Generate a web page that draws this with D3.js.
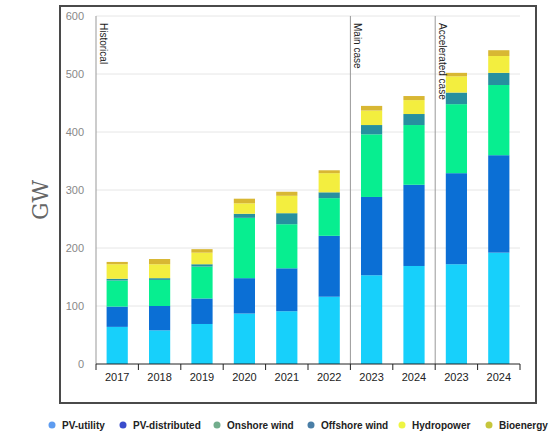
<!DOCTYPE html>
<html>
<head>
<meta charset="utf-8">
<script src="https://cdn.jsdelivr.net/npm/d3@7"></script>
<style>
  body { margin: 0; background: #fff; }
  svg { display: block; font-family: 'Liberation Sans', Arial, sans-serif; }
</style>
</head>
<body>
<svg id="chart" width="550" height="436"></svg>
<script>
// categories (two scenario groups repeat 2023 / 2024)
var years = ['2017', '2018', '2019', '2020', '2021', '2022', '2023', '2024', '2023', '2024']
var series = ['PV-utility', 'PV-distributed', 'Onshore wind', 'Offshore wind', 'Hydropower', 'Bioenergy']

// GW
var pvUtility     = [64, 58, 69, 87, 91, 116, 153, 169, 172, 192]
var pvDistributed = [35, 42, 44, 61, 74, 105, 135, 140, 157, 168]
var onshoreWind   = [45, 45, 55, 104, 76, 65, 108, 103, 119, 121]
var offshoreWind  = [3, 3, 4, 7, 19, 10, 16, 19, 20, 21]
var hydropower    = [25, 24, 20, 18, 30, 33, 25, 24, 28, 29]
var bioenergy     = [4, 9, 6, 8, 7, 5, 8, 7, 6, 10]

var yTicks = [0, 100, 200, 300, 400, 500, 600]
var sections = [
  {label: 'Historical', at: 0},
  {label: 'Main case', at: 6},
  {label: 'Accelerated case', at: 8}
]

var barColors = ['#17d0fb', '#0b6fd5', '#07ee90', '#27909f', '#f3ee3f', '#d8b733']
var legendColors = ['#5e9cf0', '#3a4dcc', '#72ad8c', '#4a7ea6', '#eef543', '#c6c63c']

var rows = years.map(function (y, i) {
  return {
    idx: i,
    'PV-utility': pvUtility[i],
    'PV-distributed': pvDistributed[i],
    'Onshore wind': onshoreWind[i],
    'Offshore wind': offshoreWind[i],
    'Hydropower': hydropower[i],
    'Bioenergy': bioenergy[i]
  }
})

var svg = d3.select('#chart')

// outer frame: dark filled box with a white panel on top
svg.append('rect')
  .attr('x', 59).attr('y', 5)
  .attr('width', 478).attr('height', 399)
  .attr('fill', '#4a4a4a')
svg.append('rect')
  .attr('x', 61).attr('y', 7)
  .attr('width', 474).attr('height', 395)
  .attr('fill', '#ffffff')

var margin = {top: 16, right: 30, bottom: 72, left: 96}
var width = 520 - margin.left
var height = 364 - margin.top

var g = svg.append('g').attr('transform', 'translate(' + margin.left + ',' + margin.top + ')')

var x = d3.scaleBand()
  .domain(d3.range(years.length))
  .range([0, width])
  .paddingInner(0.5)
  .paddingOuter(0.25)

var y = d3.scaleLinear().domain([0, 600]).range([height, 0])

// grid
g.selectAll('.grid')
  .data(yTicks.slice(1))
  .enter().append('line')
  .attr('x1', 0).attr('x2', width)
  .attr('y1', function (d) { return y(d) })
  .attr('y2', function (d) { return y(d) })
  .attr('stroke', '#e6e6e6')

// y tick labels
g.selectAll('.ylab')
  .data(yTicks)
  .enter().append('text')
  .attr('x', -12)
  .attr('y', function (d) { return y(d) })
  .attr('dy', '0.35em')
  .attr('text-anchor', 'end')
  .attr('font-size', 11)
  .attr('fill', '#888')
  .text(function (d) { return d })

// stacked bars
var stack = d3.stack().keys(series)
var layers = stack(rows)

g.selectAll('.layer')
  .data(layers)
  .enter().append('g')
  .attr('fill', function (d, i) { return barColors[i] })
  .selectAll('rect')
  .data(function (d) { return d })
  .enter().append('rect')
  .attr('x', function (d) { return x(d.data.idx) })
  .attr('width', x.bandwidth())
  .attr('y', function (d) { return y(d[1]) })
  .attr('height', function (d) { return y(d[0]) - y(d[1]) })

// section dividers
var step = x.step()
g.selectAll('.divider')
  .data(sections)
  .enter().append('line')
  .attr('x1', function (d) { return d.at * step })
  .attr('x2', function (d) { return d.at * step })
  .attr('y1', 0).attr('y2', height)
  .attr('stroke', '#999')

g.selectAll('.section')
  .data(sections)
  .enter().append('text')
  .attr('transform', function (d) { return 'translate(' + (d.at * step + 4) + ',7) rotate(90)' })
  .attr('font-size', 10)
  .attr('fill', '#222')
  .text(function (d) { return d.label })

// x axis
g.append('line')
  .attr('x1', 0).attr('x2', width)
  .attr('y1', height).attr('y2', height)
  .attr('stroke', '#222')

g.selectAll('.xtick')
  .data(d3.range(years.length + 1))
  .enter().append('line')
  .attr('x1', function (d) { return d * step })
  .attr('x2', function (d) { return d * step })
  .attr('y1', height).attr('y2', height + 6)
  .attr('stroke', '#222')

g.selectAll('.xlab')
  .data(years)
  .enter().append('text')
  .attr('x', function (d, i) { return x(i) + x.bandwidth() / 2 })
  .attr('y', height + 17)
  .attr('text-anchor', 'middle')
  .attr('font-size', 11)
  .attr('fill', '#222')
  .text(function (d) { return d })

// y axis title
svg.append('text')
  .attr('transform', 'translate(48,200) rotate(-90)')
  .attr('text-anchor', 'middle')
  .attr('font-family', "'DejaVu Serif', 'Liberation Serif', serif")
  .attr('font-size', 22)
  .attr('fill', '#666')
  .text('GW')

// legend
var legendX = [52, 123, 217, 311, 402, 489]
var legend = svg.selectAll('.legend')
  .data(series)
  .enter().append('g')
  .attr('transform', function (d, i) { return 'translate(' + legendX[i] + ',425)' })

legend.append('circle')
  .attr('r', 3.5)
  .attr('fill', function (d, i) { return legendColors[i] })

legend.append('text')
  .attr('x', 10)
  .attr('dy', '0.35em')
  .attr('font-size', 10)
  .attr('font-weight', 600)
  .attr('fill', '#222')
  .text(function (d) { return d })
</script>
</body>
</html>
